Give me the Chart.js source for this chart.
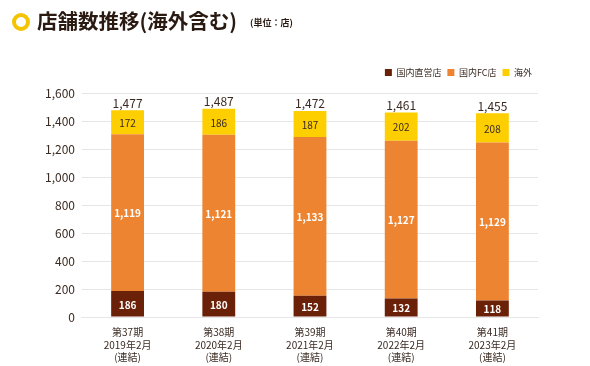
<!DOCTYPE html>
<html>
<head>
<meta charset="utf-8">
<script src="https://cdn.jsdelivr.net/npm/chart.js@4"></script>
<style>
  html, body { margin: 0; padding: 0; background: #fff; }
  #wrap { width: 590px; height: 366px; position: relative; }
</style>
</head>
<body>
<div id="wrap"><canvas id="stores-chart" width="590" height="366"></canvas></div>
<script>
var periods = [
    ["第37期", "2019年2月", "(連結)"],
    ["第38期", "2020年2月", "(連結)"],
    ["第39期", "2021年2月", "(連結)"],
    ["第40期", "2022年2月", "(連結)"],
    ["第41期", "2023年2月", "(連結)"]
];
var directStores = [186, 180, 152, 132, 118];
var fcStores = [1119, 1121, 1133, 1127, 1129];
var overseasStores = [172, 186, 187, 202, 208];
var totalStores = [1477, 1487, 1472, 1461, 1455];
var yTicks = [0, 200, 400, 600, 800, 1000, 1200, 1400, 1600];

var FONT = '"Noto Sans CJK JP", "Noto Sans", sans-serif';
var TEXT = '#3a2a22';

// タイトルと単位
var headerPlugin = {
    id: 'header',
    beforeInit: function (chart) {
        // 凡例の下に少し余白を足す
        var fit = chart.legend.fit;
        chart.legend.fit = function () {
            fit.call(this);
            this.height += 6;
        };
    },
    beforeDraw: function (chart) {
        var ctx = chart.ctx;
        ctx.save();
        ctx.beginPath();
        ctx.arc(21, 22, 7, 0, Math.PI * 2);
        ctx.lineWidth = 4;
        ctx.strokeStyle = '#f5c400';
        ctx.stroke();
        ctx.fillStyle = '#2a1a12';
        ctx.textBaseline = 'middle';
        ctx.font = 'bold 20.5px ' + FONT;
        ctx.fillText('店舗数推移(海外含む)', 37, 21);
        ctx.font = 'bold 9px ' + FONT;
        ctx.fillText('(単位：店)', 250, 23);
        ctx.restore();
    }
};

// 棒の中の数値と合計
var labelsPlugin = {
    id: 'barLabels',
    afterDatasetsDraw: function (chart) {
        var ctx = chart.ctx;
        ctx.save();
        ctx.textAlign = 'center';
        ctx.textBaseline = 'middle';
        chart.data.datasets.forEach(function (ds, i) {
            var meta = chart.getDatasetMeta(i);
            meta.data.forEach(function (bar, j) {
                var y = (bar.y + bar.base) / 2;
                ctx.font = (i === 2 ? '' : 'bold ') + '10px ' + FONT;
                ctx.fillStyle = i === 2 ? TEXT : '#ffffff';
                ctx.fillText(ds.data[j].toLocaleString('en-US'), bar.x, y + 1);
            });
        });
        var top = chart.getDatasetMeta(2);
        ctx.font = '12px ' + FONT;
        ctx.fillStyle = TEXT;
        ctx.textBaseline = 'bottom';
        top.data.forEach(function (bar, j) {
            ctx.fillText(totalStores[j].toLocaleString('en-US'), bar.x, bar.y - 1);
        });
        ctx.restore();
    }
};

new Chart(document.getElementById('stores-chart'), {
    type: 'bar',
    data: {
        labels: periods,
        datasets: [
            { label: '国内直営店', data: directStores, backgroundColor: '#6b2108' },
            { label: '国内FC店', data: fcStores, backgroundColor: '#ed8431' },
            { label: '海外', data: overseasStores, backgroundColor: '#fdcf00' }
        ]
    },
    options: {
        responsive: false,
        animation: false,
        devicePixelRatio: 1,
        layout: { padding: { top: 62, right: 52, left: 38, bottom: 3 } },
        datasets: { bar: { barPercentage: 0.36, categoryPercentage: 1 } },
        plugins: {
            legend: {
                position: 'top',
                align: 'end',
                labels: {
                    boxWidth: 7,
                    boxHeight: 7,
                    padding: 6,
                    color: TEXT,
                    font: { family: FONT, size: 9 }
                }
            },
            tooltip: { enabled: false }
        },
        scales: {
            x: {
                stacked: true,
                grid: { display: false, drawTicks: false },
                border: { color: '#e6e6e6' },
                afterFit: function (scale) {
                    scale.height = 46;
                },
                ticks: {
                    color: TEXT,
                    autoSkip: false,
                    maxRotation: 0,
                    font: { family: FONT, size: 10, lineHeight: 1.25 },
                    padding: 9
                }
            },
            y: {
                stacked: true,
                min: 0,
                max: 1600,
                afterBuildTicks: function (axis) {
                    axis.ticks = yTicks.map(function (v) { return { value: v }; });
                },
                grid: { color: '#e6e6e6', drawTicks: false },
                border: { display: false },
                ticks: {
                    color: TEXT,
                    padding: 7,
                    font: { family: FONT, size: 12 },
                    callback: function (v) { return v.toLocaleString('en-US'); }
                }
            }
        }
    },
    plugins: [headerPlugin, labelsPlugin]
});
</script>
</body>
</html>
